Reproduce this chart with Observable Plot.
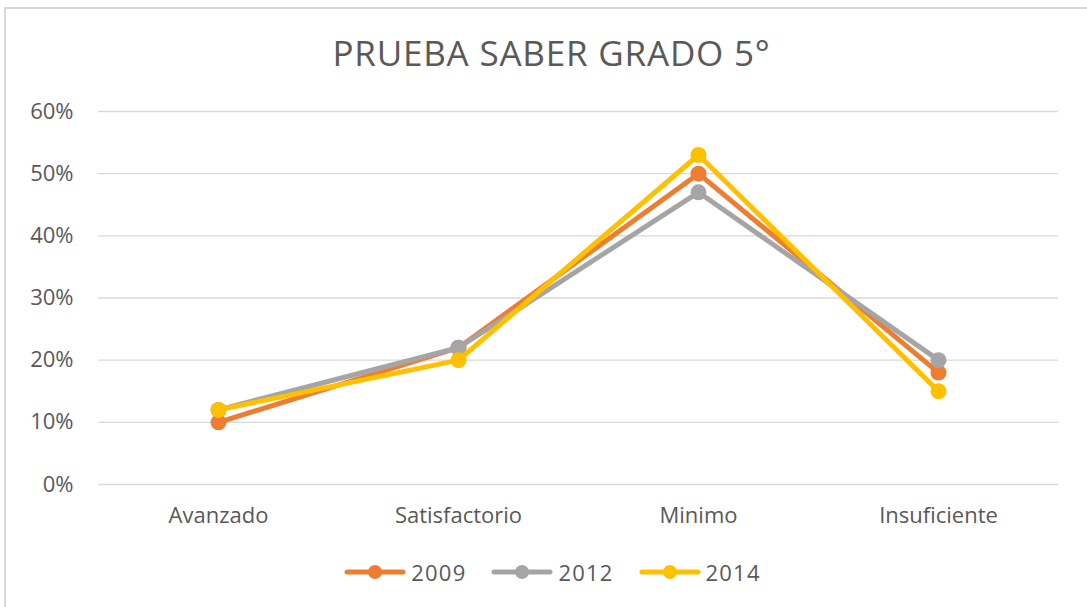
<!DOCTYPE html>
<html>
<head>
<meta charset="utf-8">
<script src="https://cdn.jsdelivr.net/npm/d3@7"></script>
<script src="https://cdn.jsdelivr.net/npm/@observablehq/plot@0.6"></script>
<style>
  html, body { margin: 0; padding: 0; background: #fff; overflow: hidden; }
  #wrap { position: relative; width: 1087px; height: 607px; font-family: "Open Sans", sans-serif; color: #595959; }
  #border { position: absolute; left: 4px; top: 7px; width: 1120px; height: 640px; border: 2px solid #d9d9d9; box-sizing: border-box; }
  #title { position: absolute; left: 8px; width: 1087px; top: 36px; text-align: center; font-size: 35px; line-height: 34px; letter-spacing: 0.8px; color: #595959; }
  #chart { position: absolute; left: 0; top: 90px; }
  #legend { position: absolute; left: 9px; width: 1087px; top: 560px; display: flex; justify-content: center; align-items: center; font-size: 22px; letter-spacing: 1.2px; line-height: 24px; }
  .item { display: flex; align-items: center; margin: 0 12.5px; }
  .item span { margin-left: 5px; }
</style>
</head>
<body>
<div id="wrap">
  <div id="border"></div>
  <div id="title"></div>
  <div id="chart"></div>
  <div id="legend"></div>
</div>
<script>
const titleText = "PRUEBA SABER GRADO 5°";
const categories = ["Avanzado", "Satisfactorio", "Minimo", "Insuficiente"];
const seriesNames = ["2009", "2012", "2014"];
const seriesColors = ["#ED7D31", "#A5A5A5", "#FFC000"];
const values2009 = [0.10, 0.22, 0.50, 0.18];
const values2012 = [0.12, 0.22, 0.47, 0.20];
const values2014 = [0.12, 0.20, 0.53, 0.15];
const yTicks = [0, 0.1, 0.2, 0.3, 0.4, 0.5, 0.6];

const seriesValues = [values2009, values2012, values2014];
const data = [];
seriesNames.forEach((s, i) => categories.forEach((c, j) => data.push({series: s, category: c, value: seriesValues[i][j]})));

document.getElementById("title").textContent = titleText;

const marks = [
  Plot.ruleY(yTicks, {stroke: "#d9d9d9", strokeWidth: 1.3})
];
seriesNames.forEach((s, i) => {
  const d = data.filter(r => r.series === s);
  marks.push(Plot.line(d, {x: "category", y: "value", stroke: seriesColors[i], strokeWidth: 5, strokeLinejoin: "round", strokeLinecap: "round"}));
  marks.push(Plot.dot(d, {x: "category", y: "value", fill: seriesColors[i], r: 8}));
});
marks.push(Plot.axisY(yTicks, {tickFormat: d3.format(".0%"), tickSize: 0, tickPadding: 25, fontSize: 22, fill: "#595959", label: null}));
marks.push(Plot.axisX({tickSize: 0, tickPadding: 23, fontSize: 22, fill: "#595959", label: null}));

const chart = Plot.plot({
  width: 1087,
  height: 450,
  marginLeft: 98,
  marginRight: 29,
  marginTop: 21,
  marginBottom: 56,
  style: {fontFamily: "Open Sans, sans-serif", background: "transparent", color: "#595959"},
  x: {type: "point", domain: categories, padding: 0.5, label: null},
  y: {domain: [0, 0.6], label: null},
  marks
});
document.getElementById("chart").appendChild(chart);

const legend = document.getElementById("legend");
seriesNames.forEach((s, i) => {
  const item = document.createElement("div");
  item.className = "item";
  item.innerHTML = `<svg width="62" height="20"><line x1="3" y1="10" x2="59" y2="10" stroke="${seriesColors[i]}" stroke-width="5" stroke-linecap="round"/><circle cx="31" cy="10" r="7" fill="${seriesColors[i]}"/></svg><span>${s}</span>`;
  legend.appendChild(item);
});
</script>
</body>
</html>
